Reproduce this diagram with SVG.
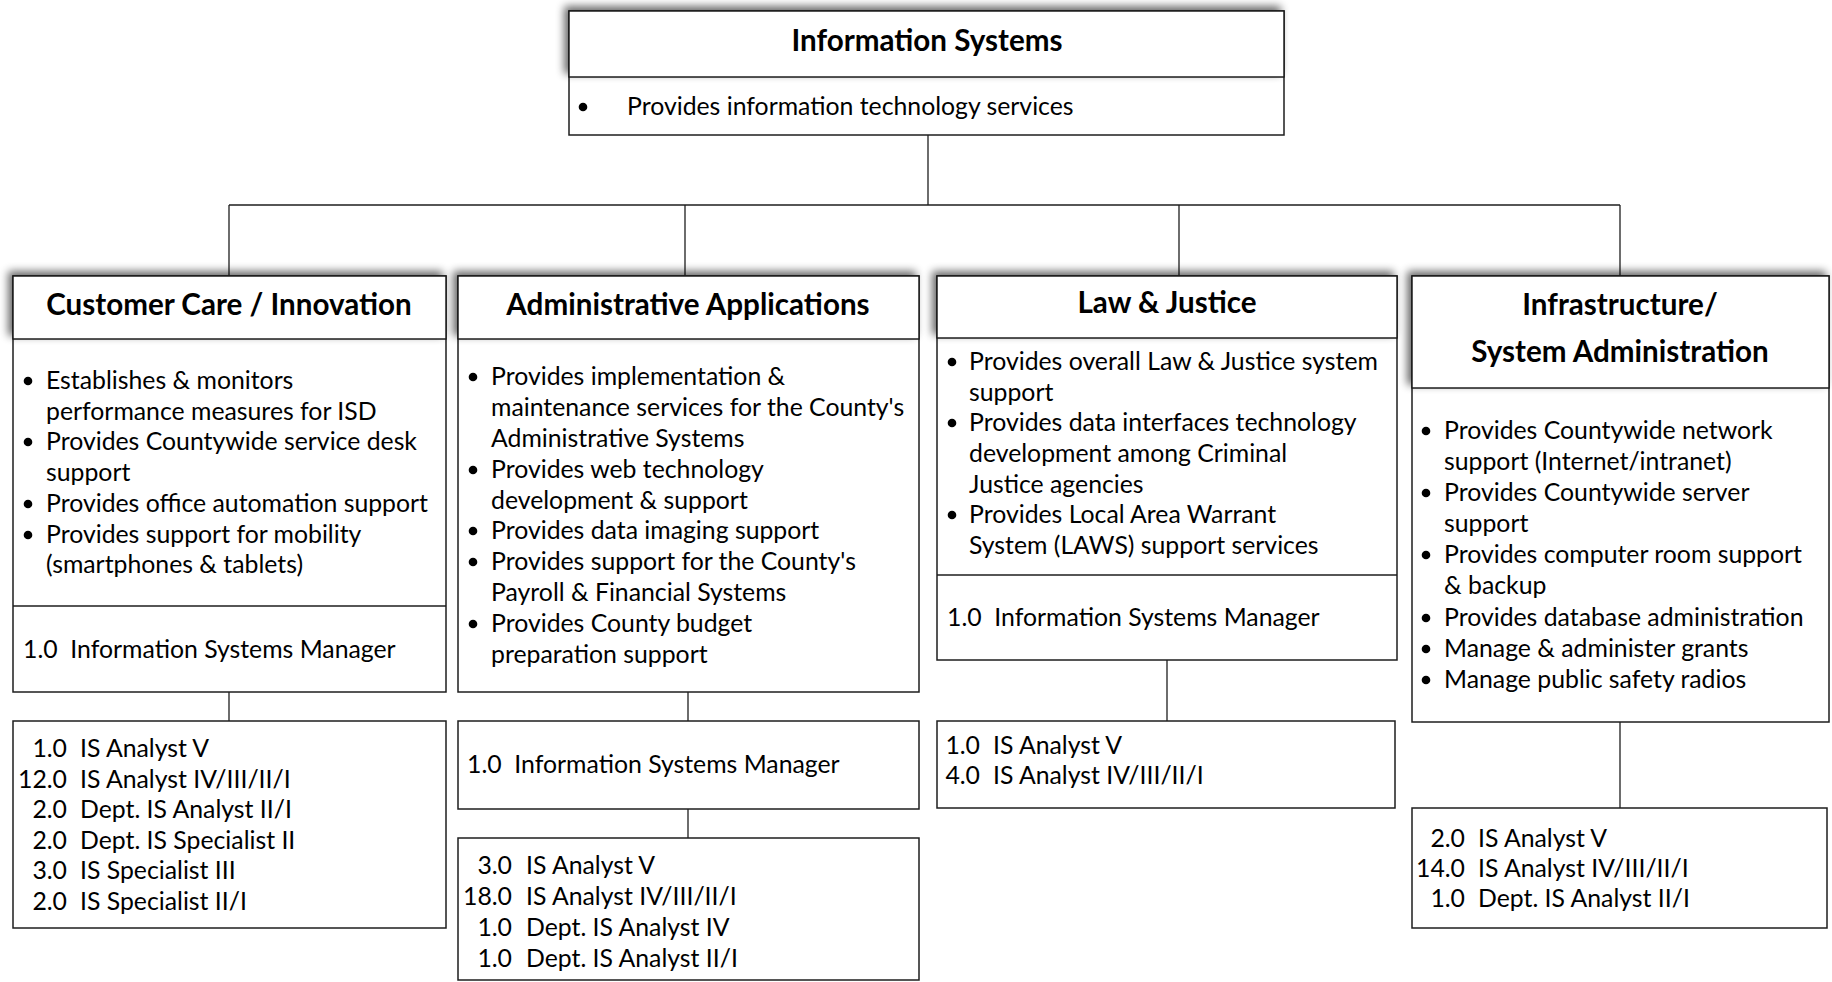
<svg xmlns="http://www.w3.org/2000/svg" width="1832" height="982" viewBox="0 0 1832 982">
  <defs>
    <!-- soft grey shadow cast up and to the left of each heading panel -->
    <filter id="headShadow" x="-5%" y="-40%" width="110%" height="180%">
      <feOffset in="SourceAlpha" dx="-4" dy="-4" result="off"/>
      <feGaussianBlur in="off" stdDeviation="4" result="blur"/>
      <feComponentTransfer in="blur" result="soft">
        <feFuncA type="linear" slope="0.6"/>
      </feComponentTransfer>
      <feMerge>
        <feMergeNode in="soft"/>
        <feMergeNode in="SourceGraphic"/>
      </feMerge>
    </filter>
    <style>
      .box { fill: #ffffff; stroke: #1e1e1e; stroke-width: 1.5; }
      .head { fill: #ffffff; stroke: #1e1e1e; stroke-width: 1.5; filter: url(#headShadow); }
      .rule { stroke: #1e1e1e; stroke-width: 1.5; fill: none; }
      .conn { stroke: #1e1e1e; stroke-width: 1.3; fill: none; }
      .dot { fill: #000000; }
      text { font-family: Lato, "Open Sans", "Liberation Sans", sans-serif; fill: #000000; }
      .title { font-size: 29.6px; font-weight: 700; text-anchor: middle; }
      .body { font-size: 24.8px; }
      .num { font-size: 24.8px; text-anchor: end; }
    </style>
  </defs>

  <rect width="1832" height="982" fill="#ffffff"/>

  <!-- connectors -->
  <g id="connectors">
    <path class="conn" d="M928 135 V205"/>
    <path class="conn" d="M229 205 H1620"/>
    <path class="conn" d="M229 205 V276"/>
    <path class="conn" d="M685 205 V276"/>
    <path class="conn" d="M1179 205 V276"/>
    <path class="conn" d="M1620 205 V276"/>
    <path class="conn" d="M229 692 V721"/>
    <path class="conn" d="M688 692 V721"/>
    <path class="conn" d="M688 809 V838"/>
    <path class="conn" d="M1167 660 V721"/>
    <path class="conn" d="M1620 722 V808"/>
  </g>

  <!-- Information Systems (department head) -->
  <g id="node-information-systems">
    <rect class="box" x="569" y="11" width="715" height="124"/>
    <rect class="head" x="569" y="11" width="715" height="66"/>
    <text class="title" x="927" y="51">Information Systems</text>
    <circle class="dot" cx="583" cy="107" r="4.3"/>
    <text class="body" x="627" y="115">Provides information technology services</text>
  </g>

  <!-- Customer Care / Innovation -->
  <g id="node-customer-care">
    <rect class="box" x="13" y="276" width="433" height="416"/>
    <rect class="head" x="13" y="276" width="433" height="63"/>
    <line class="rule" x1="13" y1="606" x2="446" y2="606"/>
    <text class="title" x="229" y="315">Customer Care / Innovation</text>
    <circle class="dot" cx="28" cy="381" r="4.3"/>
    <text class="body" x="46" y="389">Establishes &amp; monitors</text>
    <text class="body" x="46" y="420">performance measures for ISD</text>
    <circle class="dot" cx="28" cy="442" r="4.3"/>
    <text class="body" x="46" y="450">Provides Countywide service desk</text>
    <text class="body" x="46" y="481">support</text>
    <circle class="dot" cx="28" cy="504" r="4.3"/>
    <text class="body" x="46" y="512">Provides office automation support</text>
    <circle class="dot" cx="28" cy="535" r="4.3"/>
    <text class="body" x="46" y="543">Provides support for mobility</text>
    <text class="body" x="46" y="573">(smartphones &amp; tablets)</text>
    <text class="body" x="23" y="658" xml:space="preserve">1.0  Information Systems Manager</text>
  </g>

  <g id="node-customer-care-staff">
    <rect class="box" x="13" y="721" width="433" height="207"/>
    <text class="num" x="67" y="757">1.0</text><text class="body" x="80" y="757">IS Analyst V</text>
    <text class="num" x="67" y="788">12.0</text><text class="body" x="80" y="788">IS Analyst IV/III/II/I</text>
    <text class="num" x="67" y="818">2.0</text><text class="body" x="80" y="818">Dept. IS Analyst II/I</text>
    <text class="num" x="67" y="849">2.0</text><text class="body" x="80" y="849">Dept. IS Specialist II</text>
    <text class="num" x="67" y="879">3.0</text><text class="body" x="80" y="879">IS Specialist III</text>
    <text class="num" x="67" y="910">2.0</text><text class="body" x="80" y="910">IS Specialist II/I</text>
  </g>

  <!-- Administrative Applications -->
  <g id="node-admin-apps">
    <rect class="box" x="458" y="276" width="461" height="416"/>
    <rect class="head" x="458" y="276" width="461" height="63"/>
    <text class="title" x="688" y="315">Administrative Applications</text>
    <circle class="dot" cx="473" cy="377" r="4.3"/>
    <text class="body" x="491" y="385">Provides implementation &amp;</text>
    <text class="body" x="491" y="416">maintenance services for the County's</text>
    <text class="body" x="491" y="447">Administrative Systems</text>
    <circle class="dot" cx="473" cy="470" r="4.3"/>
    <text class="body" x="491" y="478">Provides web technology</text>
    <text class="body" x="491" y="509">development &amp; support</text>
    <circle class="dot" cx="473" cy="531" r="4.3"/>
    <text class="body" x="491" y="539">Provides data imaging support</text>
    <circle class="dot" cx="473" cy="562" r="4.3"/>
    <text class="body" x="491" y="570">Provides support for the County's</text>
    <text class="body" x="491" y="601">Payroll &amp; Financial Systems</text>
    <circle class="dot" cx="473" cy="624" r="4.3"/>
    <text class="body" x="491" y="632">Provides County budget</text>
    <text class="body" x="491" y="663">preparation support</text>
  </g>

  <g id="node-admin-apps-manager">
    <rect class="box" x="458" y="721" width="461" height="88"/>
    <text class="body" x="467" y="773" xml:space="preserve">1.0  Information Systems Manager</text>
  </g>

  <g id="node-admin-apps-staff">
    <rect class="box" x="458" y="838" width="461" height="142"/>
    <text class="num" x="512" y="874">3.0</text><text class="body" x="526" y="874">IS Analyst V</text>
    <text class="num" x="512" y="905">18.0</text><text class="body" x="526" y="905">IS Analyst IV/III/II/I</text>
    <text class="num" x="512" y="936">1.0</text><text class="body" x="526" y="936">Dept. IS Analyst IV</text>
    <text class="num" x="512" y="967">1.0</text><text class="body" x="526" y="967">Dept. IS Analyst II/I</text>
  </g>

  <!-- Law & Justice -->
  <g id="node-law-justice">
    <rect class="box" x="937" y="276" width="460" height="384"/>
    <rect class="head" x="937" y="276" width="460" height="62"/>
    <line class="rule" x1="937" y1="575" x2="1397" y2="575"/>
    <text class="title" x="1167" y="313">Law &amp; Justice</text>
    <circle class="dot" cx="952" cy="362" r="4.3"/>
    <text class="body" x="969" y="370">Provides overall Law &amp; Justice system</text>
    <text class="body" x="969" y="401">support</text>
    <circle class="dot" cx="952" cy="423" r="4.3"/>
    <text class="body" x="969" y="431">Provides data interfaces technology</text>
    <text class="body" x="969" y="462">development among Criminal</text>
    <text class="body" x="969" y="493">Justice agencies</text>
    <circle class="dot" cx="952" cy="515" r="4.3"/>
    <text class="body" x="969" y="523">Provides Local Area Warrant</text>
    <text class="body" x="969" y="554">System (LAWS) support services</text>
    <text class="body" x="947" y="626" xml:space="preserve">1.0  Information Systems Manager</text>
  </g>

  <g id="node-law-justice-staff">
    <rect class="box" x="937" y="721" width="458" height="87"/>
    <text class="num" x="980" y="754">1.0</text><text class="body" x="993" y="754">IS Analyst V</text>
    <text class="num" x="980" y="784">4.0</text><text class="body" x="993" y="784">IS Analyst IV/III/II/I</text>
  </g>

  <!-- Infrastructure / System Administration -->
  <g id="node-infrastructure">
    <rect class="box" x="1412" y="276" width="417" height="446"/>
    <rect class="head" x="1412" y="276" width="417" height="112"/>
    <text class="title" x="1620" y="315">Infrastructure/</text>
    <text class="title" x="1620" y="362">System Administration</text>
    <circle class="dot" cx="1426" cy="431" r="4.3"/>
    <text class="body" x="1444" y="439">Provides Countywide network</text>
    <text class="body" x="1444" y="470">support (Internet/intranet)</text>
    <circle class="dot" cx="1426" cy="493" r="4.3"/>
    <text class="body" x="1444" y="501">Provides Countywide server</text>
    <text class="body" x="1444" y="532">support</text>
    <circle class="dot" cx="1426" cy="555" r="4.3"/>
    <text class="body" x="1444" y="563">Provides computer room support</text>
    <text class="body" x="1444" y="594">&amp; backup</text>
    <circle class="dot" cx="1426" cy="618" r="4.3"/>
    <text class="body" x="1444" y="626">Provides database administration</text>
    <circle class="dot" cx="1426" cy="649" r="4.3"/>
    <text class="body" x="1444" y="657">Manage &amp; administer grants</text>
    <circle class="dot" cx="1426" cy="680" r="4.3"/>
    <text class="body" x="1444" y="688">Manage public safety radios</text>
  </g>

  <g id="node-infrastructure-staff">
    <rect class="box" x="1412" y="808" width="415" height="120"/>
    <text class="num" x="1465" y="847">2.0</text><text class="body" x="1478" y="847">IS Analyst V</text>
    <text class="num" x="1465" y="877">14.0</text><text class="body" x="1478" y="877">IS Analyst IV/III/II/I</text>
    <text class="num" x="1465" y="907">1.0</text><text class="body" x="1478" y="907">Dept. IS Analyst II/I</text>
  </g>
</svg>
